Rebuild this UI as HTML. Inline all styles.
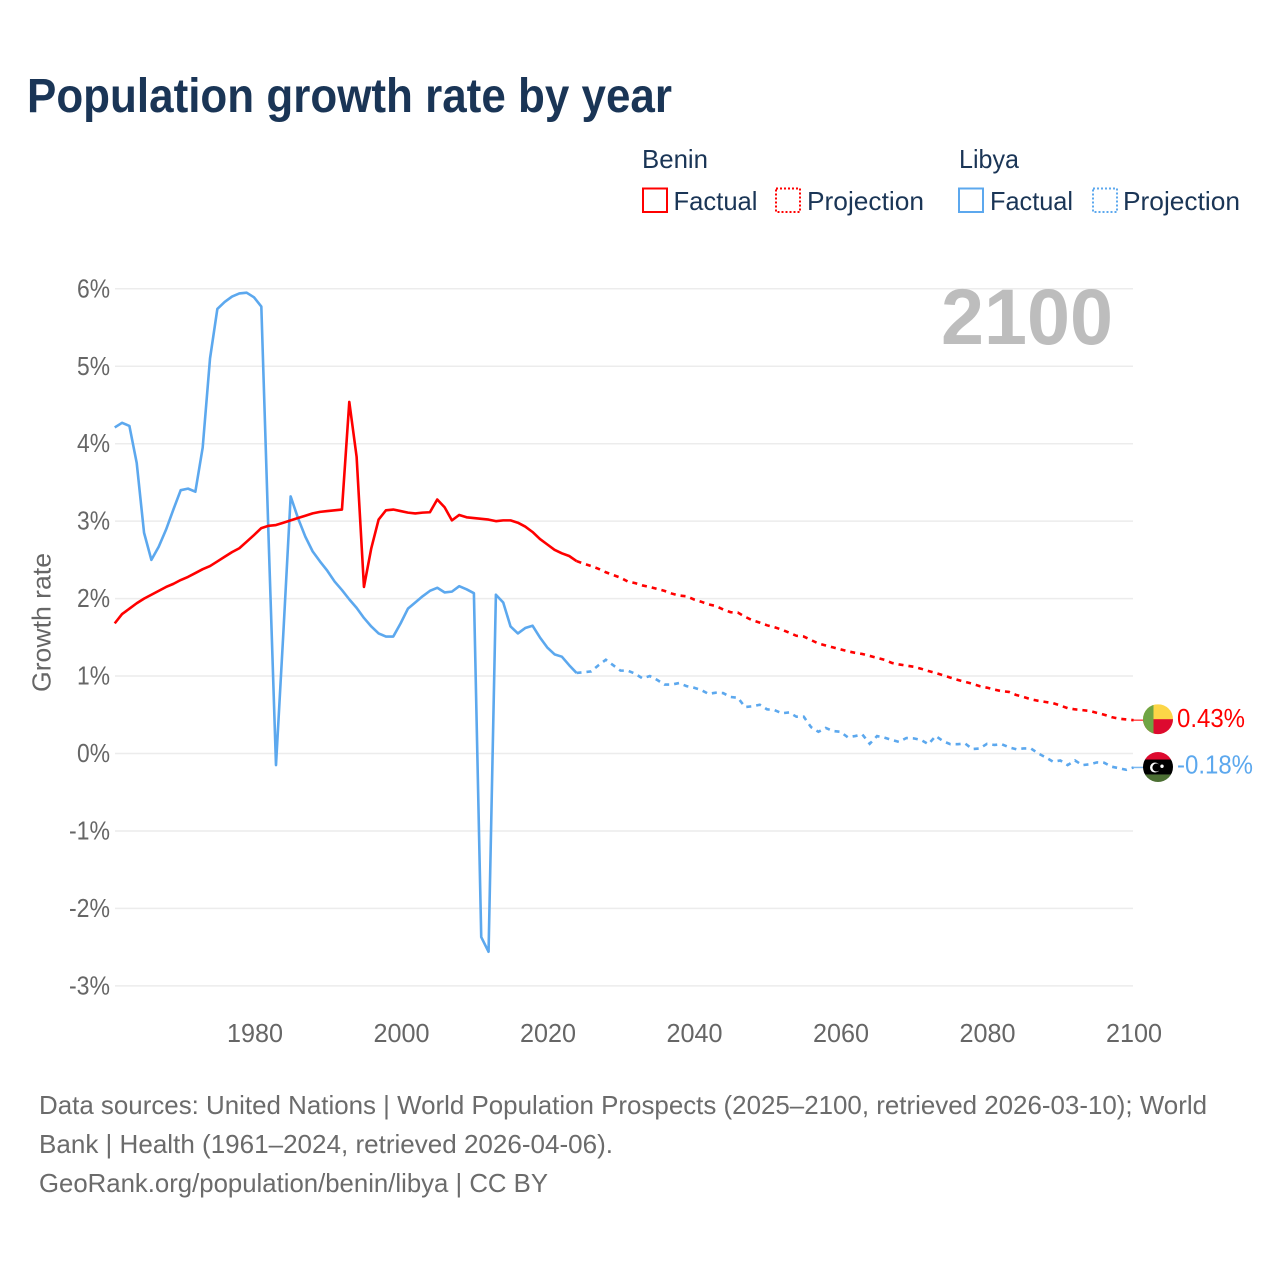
<!DOCTYPE html>
<html lang="en">
<head>
<meta charset="utf-8">
<title>Population growth rate by year</title>
<style>
html,body{margin:0;padding:0;background:#fff;}
svg{display:block;font-family:"Liberation Sans",sans-serif;}
</style>
</head>
<body>
<svg id="chart" width="1280" height="1280" viewBox="0 0 1280 1280" xmlns="http://www.w3.org/2000/svg">
  <defs>
    <clipPath id="flag-clip"><circle cx="0" cy="0" r="15"/></clipPath>
  </defs>
  <rect x="0" y="0" width="1280" height="1280" fill="#fff"/>
  <text x="27" y="112" font-size="48" font-weight="700" fill="#1a3556" textLength="645" lengthAdjust="spacingAndGlyphs">Population growth rate by year</text>

  <g font-size="26" fill="#1a3556">
    <text x="642" y="168" textLength="66" lengthAdjust="spacingAndGlyphs">Benin</text>
    <text x="959" y="168" textLength="60" lengthAdjust="spacingAndGlyphs">Libya</text>
    <rect x="643" y="188.5" width="24" height="23.5" fill="none" stroke="#ff0000" stroke-width="2"/>
    <text x="673.5" y="210" textLength="84" lengthAdjust="spacingAndGlyphs">Factual</text>
    <rect x="776" y="188.5" width="24" height="23.5" fill="none" stroke="#ff0000" stroke-width="2" stroke-dasharray="2,2"/>
    <text x="807" y="210" textLength="117" lengthAdjust="spacingAndGlyphs">Projection</text>
    <rect x="959" y="188.5" width="24" height="23.5" fill="none" stroke="#5ca8ee" stroke-width="2"/>
    <text x="990" y="210" textLength="83" lengthAdjust="spacingAndGlyphs">Factual</text>
    <rect x="1093" y="188.5" width="24" height="23.5" fill="none" stroke="#5ca8ee" stroke-width="2" stroke-dasharray="2,2"/>
    <text x="1123" y="210" textLength="117" lengthAdjust="spacingAndGlyphs">Projection</text>
  </g>

  <g id="grid"></g>
  <g id="y-ticks"></g>
  <g id="x-ticks"></g>
  <text transform="translate(50.5,692) rotate(-90)" font-size="26" fill="#666" textLength="139" lengthAdjust="spacingAndGlyphs">Growth rate</text>
  <text x="941" y="344" font-size="79" font-weight="700" fill="#bdbdbd" textLength="172" lengthAdjust="spacingAndGlyphs">2100</text>

  <g id="series"></g>

  <g id="end-benin">
    <g clip-path="url(#flag-clip)">
      <rect x="-15" y="-15" width="30" height="30" fill="#fcd647"/>
      <rect x="-15" y="0" width="30" height="15" fill="#dd0a2f"/>
      <rect x="-15" y="-15" width="10.5" height="30" fill="#6fa544"/>
    </g>
    <text id="label-benin" x="19" y="8" font-size="26" fill="#ff0000" textLength="68" lengthAdjust="spacingAndGlyphs"></text>
  </g>
  <g id="end-libya">
    <g clip-path="url(#flag-clip)">
      <rect x="-15" y="-15" width="30" height="8" fill="#dd0a2f"/>
      <rect x="-15" y="-7.5" width="30" height="15" fill="#000"/>
      <rect x="-15" y="7.5" width="30" height="8" fill="#4c6f33"/>
      <circle cx="-3" cy="0.5" r="5" fill="#fff"/>
      <circle cx="-1.6" cy="0.5" r="4" fill="#000"/>
      <circle cx="4" cy="-0.8" r="1.7" fill="#fff"/>
    </g>
    <text id="label-libya" x="19" y="6.5" font-size="26" fill="#5ca8ee" textLength="76" lengthAdjust="spacingAndGlyphs"></text>
  </g>

  <g font-size="26" fill="#6b6b6b">
    <text x="39" y="1114" textLength="1168" lengthAdjust="spacingAndGlyphs">Data sources: United Nations | World Population Prospects (2025–2100, retrieved 2026-03-10); World</text>
    <text x="39" y="1153" textLength="574" lengthAdjust="spacingAndGlyphs">Bank | Health (1961–2024, retrieved 2026-04-06).</text>
    <text x="39" y="1192" textLength="509" lengthAdjust="spacingAndGlyphs">GeoRank.org/population/benin/libya | CC BY</text>
  </g>
</svg>
<script>
const firstYear = 1961;
const projectionStartYear = 2024;
const yTickValues = [6, 5, 4, 3, 2, 1, 0, -1, -2, -3];
const yTickLabels = ['6%', '5%', '4%', '3%', '2%', '1%', '0%', '-1%', '-2%', '-3%'];
const xTickValues = [1980, 2000, 2020, 2040, 2060, 2080, 2100];
const xTickLabels = ['1980', '2000', '2020', '2040', '2060', '2080', '2100'];
const endLabels = ['0.43%', '-0.18%'];

const beninFactual = [1.68,1.80,1.87,1.94,2.00,2.05,2.10,2.15,2.19,2.24,2.28,2.33,2.38,2.42,2.48,2.54,2.60,2.65,2.735,2.82,2.91,2.94,2.95,2.98,3.01,3.04,3.07,3.10,3.12,3.13,3.14,3.15,4.54,3.83,2.15,2.65,3.02,3.14,3.15,3.13,3.11,3.10,3.11,3.115,3.28,3.18,3.01,3.08,3.05,3.04,3.03,3.02,3.00,3.01,3.01,2.98,2.93,2.86,2.77,2.70,2.63,2.585,2.55,2.485];
const beninProjection = [2.485,2.45,2.42,2.385,2.34,2.305,2.27,2.22,2.20,2.17,2.15,2.125,2.10,2.065,2.04,2.03,1.99,1.96,1.925,1.905,1.86,1.825,1.82,1.765,1.72,1.69,1.655,1.63,1.60,1.56,1.52,1.51,1.465,1.42,1.395,1.37,1.345,1.32,1.30,1.285,1.26,1.235,1.21,1.17,1.15,1.135,1.12,1.095,1.065,1.04,1.01,0.98,0.95,0.925,0.90,0.87,0.85,0.825,0.805,0.795,0.755,0.73,0.70,0.68,0.665,0.65,0.62,0.585,0.57,0.56,0.55,0.525,0.50,0.47,0.45,0.44,0.43];
const libyaFactual = [4.21,4.27,4.23,3.75,2.85,2.50,2.67,2.89,3.15,3.40,3.42,3.38,3.95,5.10,5.74,5.83,5.90,5.94,5.95,5.89,5.77,2.75,-0.15,1.55,3.32,3.04,2.80,2.61,2.48,2.36,2.22,2.11,1.99,1.88,1.75,1.64,1.55,1.51,1.51,1.68,1.87,1.95,2.03,2.10,2.14,2.08,2.09,2.16,2.12,2.07,-2.37,-2.56,2.05,1.95,1.64,1.55,1.62,1.65,1.50,1.37,1.28,1.25,1.14,1.04];
const libyaProjection = [1.04,1.05,1.06,1.14,1.21,1.14,1.07,1.07,1.03,0.97,1.00,0.95,0.89,0.89,0.91,0.87,0.85,0.82,0.77,0.785,0.78,0.73,0.72,0.60,0.61,0.63,0.57,0.56,0.52,0.53,0.475,0.475,0.34,0.28,0.33,0.29,0.28,0.21,0.225,0.245,0.125,0.225,0.205,0.175,0.15,0.20,0.195,0.175,0.12,0.226,0.16,0.12,0.12,0.13,0.058,0.065,0.125,0.11,0.12,0.08,0.055,0.065,0.065,0.00,-0.05,-0.105,-0.09,-0.15,-0.09,-0.15,-0.14,-0.115,-0.12,-0.17,-0.19,-0.21,-0.18];

const SVG_NS = 'http://www.w3.org/2000/svg';
const RED = '#ff0000';
const BLUE = '#5ca8ee';
function xScale(year) { return 255 + (year - 1980) * 7.325; }
function xLineScale(year) { return 254 + (year - 1980) * 7.33; }
function yScale(value) { return 753.5 - value * 77.45; }

const gridGroup = document.getElementById('grid');
const yTickGroup = document.getElementById('y-ticks');
yTickValues.forEach(function (value, i) {
  const line = document.createElementNS(SVG_NS, 'line');
  
  
  line.setAttribute('x1', 115);
  line.setAttribute('x2', 1133);
  line.setAttribute('y1', yScale(value));
  line.setAttribute('y2', yScale(value));
  line.setAttribute('stroke', '#ececec');
  line.setAttribute('stroke-width', 1.5);
  gridGroup.appendChild(line);

  const label = document.createElementNS(SVG_NS, 'text');
  
  
  const width = yTickLabels[i].length === 3 ? 41 : 33;
  label.setAttribute('x', 110 - width);
  label.setAttribute('y', yScale(value) + 8.5);
  label.setAttribute('font-size', 26);
  label.setAttribute('fill', '#666');
  label.setAttribute('textLength', width);
  label.setAttribute('lengthAdjust', 'spacingAndGlyphs');
  label.textContent = yTickLabels[i];
  yTickGroup.appendChild(label);
});

const xTickGroup = document.getElementById('x-ticks');
xTickValues.forEach(function (year, i) {
  const label = document.createElementNS(SVG_NS, 'text');
  
  
  label.setAttribute('x', xScale(year) - 28);
  label.setAttribute('y', 1042);
  label.setAttribute('font-size', 26);
  label.setAttribute('fill', '#666');
  label.setAttribute('textLength', 56);
  label.setAttribute('lengthAdjust', 'spacingAndGlyphs');
  label.textContent = xTickLabels[i];
  xTickGroup.appendChild(label);
});

function linePath(values, startYear) {
  return values.map(function (value, i) {
    return (i === 0 ? 'M' : 'L') + xLineScale(startYear + i).toFixed(2) + ' ' + yScale(value).toFixed(2);
  }).join(' ');
}

const seriesGroup = document.getElementById('series');

const libyaFactualLine = document.createElementNS(SVG_NS, 'path');


libyaFactualLine.setAttribute('d', linePath(libyaFactual, firstYear));
libyaFactualLine.setAttribute('fill', 'none');
libyaFactualLine.setAttribute('stroke', BLUE);
libyaFactualLine.setAttribute('stroke-width', 2.6);
libyaFactualLine.setAttribute('stroke-linejoin', 'round');
seriesGroup.appendChild(libyaFactualLine);

const libyaProjectionLine = document.createElementNS(SVG_NS, 'path');


libyaProjectionLine.setAttribute('d', linePath(libyaProjection, projectionStartYear));
libyaProjectionLine.setAttribute('fill', 'none');
libyaProjectionLine.setAttribute('stroke', BLUE);
libyaProjectionLine.setAttribute('stroke-width', 2.6);
libyaProjectionLine.setAttribute('stroke-dasharray', '5,5');
seriesGroup.appendChild(libyaProjectionLine);

const beninFactualLine = document.createElementNS(SVG_NS, 'path');


beninFactualLine.setAttribute('d', linePath(beninFactual, firstYear));
beninFactualLine.setAttribute('fill', 'none');
beninFactualLine.setAttribute('stroke', RED);
beninFactualLine.setAttribute('stroke-width', 2.6);
beninFactualLine.setAttribute('stroke-linejoin', 'round');
seriesGroup.appendChild(beninFactualLine);

const beninProjectionLine = document.createElementNS(SVG_NS, 'path');


beninProjectionLine.setAttribute('d', linePath(beninProjection, projectionStartYear));
beninProjectionLine.setAttribute('fill', 'none');
beninProjectionLine.setAttribute('stroke', RED);
beninProjectionLine.setAttribute('stroke-width', 2.6);
beninProjectionLine.setAttribute('stroke-dasharray', '5,5');
seriesGroup.appendChild(beninProjectionLine);

const lastBenin = beninProjection[beninProjection.length - 1];
const lastLibya = libyaProjection[libyaProjection.length - 1];
const lastYearX = xLineScale(2100);

const beninLeader = document.createElementNS(SVG_NS, 'line');


beninLeader.setAttribute('x1', lastYearX);
beninLeader.setAttribute('x2', lastYearX + 10);
beninLeader.setAttribute('y1', yScale(lastBenin));
beninLeader.setAttribute('y2', yScale(lastBenin));
beninLeader.setAttribute('stroke', RED);
beninLeader.setAttribute('stroke-width', 1.5);
beninLeader.setAttribute('stroke-opacity', 0.7);
seriesGroup.appendChild(beninLeader);

const libyaLeader = document.createElementNS(SVG_NS, 'line');


libyaLeader.setAttribute('x1', lastYearX);
libyaLeader.setAttribute('x2', lastYearX + 10);
libyaLeader.setAttribute('y1', yScale(lastLibya));
libyaLeader.setAttribute('y2', yScale(lastLibya));
libyaLeader.setAttribute('stroke', BLUE);
libyaLeader.setAttribute('stroke-width', 1.5);
libyaLeader.setAttribute('stroke-opacity', 0.8);
seriesGroup.appendChild(libyaLeader);

document.getElementById('end-benin').setAttribute('transform', 'translate(1158,' + (yScale(lastBenin) - 1) + ')');
document.getElementById('end-libya').setAttribute('transform', 'translate(1158,' + (yScale(lastLibya) - 0.4) + ')');
document.getElementById('label-benin').textContent = endLabels[0];
document.getElementById('label-libya').textContent = endLabels[1];
</script>
</body>
</html>
